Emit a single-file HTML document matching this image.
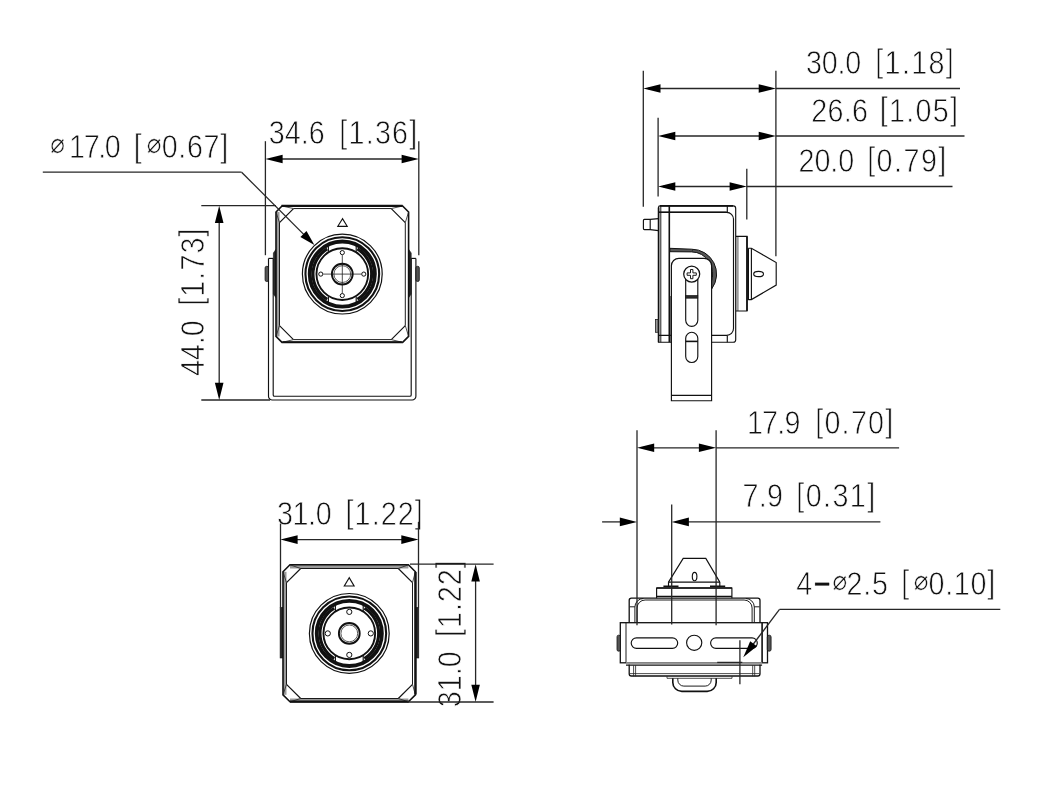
<!DOCTYPE html>
<html lang="en"><head><meta charset="utf-8"><title>Dimensions</title>
<style>
html,body{margin:0;padding:0;background:#fff;}
svg{display:block;will-change:transform;}
.l{fill:none;stroke:#111;stroke-width:1.15;}
.lm{fill:none;stroke:#111;stroke-width:1.6;}
.lk{fill:none;stroke:#111;stroke-width:2.3;}
.li{fill:none;stroke:#111;stroke-width:0.95;}
.lt{fill:none;stroke:#222;stroke-width:0.8;}
.lg{fill:none;stroke:#aaa;stroke-width:0.8;}
.lw{fill:#fff;stroke:#111;stroke-width:1;}
.lwf{fill:#fff;stroke:#111;stroke-width:1.15;}
.dl{fill:none;stroke:#262626;stroke-width:1.3;}
.ah{fill:#000;stroke:none;}
.fk{fill:#111;stroke:none;}
.fd{fill:#2a2a2a;stroke:#111;stroke-width:0.6;}
.fg{fill:#9a9a9a;stroke:none;}
.fg2{fill:#6a6a6a;stroke:none;}
.fs{fill:#555;stroke:#111;stroke-width:0.8;}
.fs2{fill:#999;stroke:#222;stroke-width:0.8;}
.fh{fill:#555;stroke:#111;stroke-width:1;}
text{font-kerning:none;}
.t{font-family:"Liberation Sans",sans-serif;font-size:33px;fill:#111;stroke:#fff;stroke-width:0.75;}
.tb{font-family:"Liberation Sans",sans-serif;font-size:33px;fill:#111;stroke:#111;stroke-width:0.4;}
.d{font-family:"DejaVu Sans","Liberation Sans",sans-serif;font-size:28px;fill:#111;stroke:#fff;stroke-width:0.45;}
</style></head>
<body>
<svg width="1058" height="798" viewBox="0 0 1058 798">
<text class="t" transform="translate(0 158.2) scale(0.87 1)" x="57.82 79.44 96.2 112.95 120.52 138.88 153.85 168.74 185.84 204.97 214.92 234.05 253.18" y="-5 0 0 0 0 0 -1.7 -5 0 0 0 0 -1.7"><tspan class="d" x="57.82" y="-5">⌀</tspan>17.0 [<tspan class="d" x="168.74" y="-5">⌀</tspan>0.67]</text>
<text class="t" transform="translate(0 144.4) scale(0.87 1)" x="308.97 327.36 345.74 354.94 373.29 390.06 400.62 420.37 430.93 450.68 470.43" y="0 0 0 0 0 -1.7 0 0 0 0 -1.7">34.6 [1.36]</text>
<text class="t" transform="translate(204.1 375.1) rotate(-90) scale(0.87 1)" x="-1.1 17.21 35.53 44.66 63.01 79.6 90.05 109.68 120.13 139.76 159.39" y="0 0 0 0 0 -1.7 0 0 0 0 -1.7">44.0 [1.73]</text>
<text class="t" transform="translate(0 74.1) scale(0.87 1)" x="926.33 944.5 962.68 971.67 990.02 1006.04 1016.76 1036.67 1047.39 1067.3 1087.21" y="0 0 0 0 0 -1.7 0 0 0 0 -1.7">30.0 [1.18]</text>
<text class="t" transform="translate(0 121.7) scale(0.87 1)" x="932.48 951.11 969.74 979.19 997.54 1011.33 1021.96 1041.77 1052.4 1072.22 1092.03" y="0 0 0 0 0 -1.7 0 0 0 0 -1.7">26.6 [1.05]</text>
<text class="t" transform="translate(0 172.1) scale(0.87 1)" x="917.77 936.08 954.39 963.51 981.86 996.73 1007.59 1027.63 1038.5 1058.54 1078.59" y="0 0 0 0 0 -1.7 0 0 0 0 -1.7">20.0 [0.79]</text>
<text class="t" transform="translate(0 525.1) scale(0.87 1)" x="318.28 336.23 354.17 362.94 381.29 397.19 407.61 427.22 437.64 457.25 476.86" y="0 0 0 0 0 -1.7 0 0 0 0 -1.7">31.0 [1.22]</text>
<text class="t" transform="translate(461 705.8) rotate(-90) scale(0.87 1)" x="-1.6 16.73 35.06 44.2 62.55 79.03 89.34 108.83 119.14 138.63 158.13" y="0 0 0 0 0 -1.7 0 0 0 0 -1.7">31.0 [1.22]</text>
<text class="t" transform="translate(0 433.9) scale(0.87 1)" x="858.52 875.94 893.36 901.6 919.95 936.96 947.59 967.4 978.04 997.85 1017.67" y="0 0 0 0 0 -1.7 0 0 0 0 -1.7">17.9 [0.70]</text>
<text class="t" transform="translate(0 507.4) scale(0.87 1)" x="853.48 872.08 881.49 899.84 915.35 926.12 946.07 956.84 976.79 996.75" y="0 0 0 0 -1.7 0 0 0 0 -1.7">7.9 [0.31]</text>
<text class="t" transform="translate(0 594.7) scale(0.87 1)" x="915.12 934.95 956.79 973.05 992.23 1002.23 1020.58 1035.81 1050.35 1067.33 1086.46 1096.41 1115.55 1134.68" y="0 0 -5 0 0 0 0 -1.7 -5 0 0 0 0 -1.7">4<tspan class="tb">−</tspan><tspan class="d" x="956.79" y="-5">⌀</tspan>2.5 [<tspan class="d" x="1050.35" y="-5">⌀</tspan>0.10]</text>
<path class="l" d="M268.5,258.4 V396.2 A3.8,3.8 0 0 0 272.3,400 H412.1 A3.8,3.8 0 0 0 415.9,396.2 V258.4"/>
<path class="l" d="M273.2,258.4 V394.9 A1.3,1.3 0 0 0 274.5,396.2 H409.9 A1.3,1.3 0 0 0 411.2,394.9 V258.4"/>
<line class="l" x1="268.5" y1="258.4" x2="273.2" y2="258.4"/>
<line class="l" x1="411.2" y1="258.4" x2="415.9" y2="258.4"/>
<path class="fd" d="M275.9,249.4 L273.4,253 V294 L275.9,297.6 Z"/>
<path class="fd" d="M408.7,249.4 L411.2,253 V294 L408.7,297.6 Z"/>
<rect class="fs" x="265.1" y="266.3" width="3.4" height="15.2" rx="1.6"/>
<rect class="fs" x="415.9" y="266.3" width="3.4" height="15.2" rx="1.6"/>
<rect fill="#fff" x="276" y="206" width="132.6" height="136.4"/>
<rect class="fg" x="276" y="212" width="3.5" height="124.4"/>
<polygon class="l" style="stroke-width:1.6" points="276,212 282,206 402.6,206 408.6,212 408.6,336.4 402.6,342.4 282,342.4 276,336.4"/>
<line class="li" x1="279.5" y1="222.55" x2="279.5" y2="325.6"/>
<line class="li" x1="405.3" y1="222.55" x2="405.3" y2="325.6"/>
<line class="li" x1="293.5" y1="208.55" x2="391.3" y2="208.55"/>
<line class="li" x1="293.5" y1="339.6" x2="391.3" y2="339.6"/>
<polyline class="l" points="279.5,222.55 293.5,208.55"/>
<polyline class="l" points="405.3,222.55 391.3,208.55"/>
<polyline class="l" points="279.5,325.6 293.5,339.6"/>
<polyline class="l" points="405.3,325.6 391.3,339.6"/>
<line class="lt" x1="276" y1="212" x2="279.5" y2="222.55"/>
<line class="lt" x1="282" y1="206" x2="293.5" y2="208.55"/>
<line class="lt" x1="408.6" y1="212" x2="405.3" y2="222.55"/>
<line class="lt" x1="402.6" y1="206" x2="391.3" y2="208.55"/>
<line class="lt" x1="276" y1="336.4" x2="279.5" y2="325.6"/>
<line class="lt" x1="282" y1="342.4" x2="293.5" y2="339.6"/>
<line class="lt" x1="408.6" y1="336.4" x2="405.3" y2="325.6"/>
<line class="lt" x1="402.6" y1="342.4" x2="391.3" y2="339.6"/>
<line class="lk" x1="281.5" y1="205.9" x2="402.6" y2="205.9"/>
<line class="lm" x1="282.5" y1="342" x2="401.8" y2="342"/>
<circle class="l" cx="342.3" cy="274.1" r="39.9" style="stroke-width:1.2"/>
<circle class="l" cx="342.3" cy="274.1" r="36.85" style="stroke-width:2.1"/>
<circle class="l" cx="342.3" cy="274.1" r="32.6" style="stroke-width:3.8"/>
<path class="fk" d="M358.21,247.61 A30.9,30.9 0 0 1 358.21,300.59 L356.62,297.93 A27.8,27.8 0 0 0 356.62,250.27 Z"/>
<path class="fk" d="M326.39,247.61 A30.9,30.9 0 0 0 326.39,300.59 L327.98,297.93 A27.8,27.8 0 0 1 327.98,250.27 Z"/>
<circle class="l" cx="342.3" cy="274.1" r="25.85" style="stroke-width:1.9"/>
<line class="l" x1="328.4" y1="251.7" x2="328.4" y2="246.3"/>
<line class="l" x1="328.4" y1="296.5" x2="328.4" y2="301.9"/>
<line class="l" x1="356.2" y1="251.7" x2="356.2" y2="246.3"/>
<line class="l" x1="356.2" y1="296.5" x2="356.2" y2="301.9"/>
<circle class="lw" cx="342.3" cy="252.6" r="2.1" style="stroke-width:1"/>
<circle class="lw" cx="342.3" cy="295.6" r="2.1" style="stroke-width:1"/>
<circle class="lw" cx="320.8" cy="274.1" r="2.1" style="stroke-width:1"/>
<circle class="lw" cx="363.8" cy="274.1" r="2.1" style="stroke-width:1"/>
<line class="lt" x1="323.3" y1="274.1" x2="361.3" y2="274.1"/>
<line class="lt" x1="342.3" y1="255.1" x2="342.3" y2="293.1"/>
<circle class="l" cx="342.3" cy="274.1" r="10.4" style="stroke-width:1.9"/>
<circle class="l" cx="342.3" cy="274.1" r="8.4" style="stroke-width:0.7"/>
<polygon class="l" points="342.5,218.7 337.8,226.3 347.2,226.3"/>
<line class="dl" x1="42.8" y1="172.2" x2="241.6" y2="172.2"/>
<line class="dl" x1="241.6" y1="172.2" x2="309" y2="239.6"/>
<polygon class="ah" points="314.4,245 300.4,237.08 306.48,231"/>
<line class="dl" x1="265.4" y1="141.2" x2="265.4" y2="255.2"/>
<line class="dl" x1="418.8" y1="141.2" x2="418.8" y2="255.2"/>
<line class="dl" x1="270" y1="159" x2="414" y2="159"/>
<polygon class="ah" points="265.4,159 282.6,154.7 282.6,163.3"/>
<polygon class="ah" points="418.8,159 401.6,163.3 401.6,154.7"/>
<line class="dl" x1="201.3" y1="205.7" x2="276" y2="205.7"/>
<line class="dl" x1="201.3" y1="400" x2="270" y2="400"/>
<line class="dl" x1="219.2" y1="210" x2="219.2" y2="396"/>
<polygon class="ah" points="219.2,205.7 223.5,222.9 214.9,222.9"/>
<polygon class="ah" points="219.2,400 214.9,382.8 223.5,382.8"/>
<path class="l" d="M660,205.9 H733.2 A2.5,2.5 0 0 1 735.7,208.4 V339.7 A2.5,2.5 0 0 1 733.2,342.2 H658.5 V207.4 A1.5,1.5 0 0 1 660,205.9 Z"/>
<line class="lm" x1="660" y1="205.9" x2="733" y2="205.9"/>
<line class="lm" x1="658.6" y1="207.5" x2="658.6" y2="342.2"/>
<line class="li" x1="660.8" y1="205.9" x2="660.8" y2="342.2"/>
<path class="l" d="M658.5,212.3 H726.7 A6.8,6.8 0 0 1 733.5,219.1 V328.6 A6.8,6.8 0 0 1 726.7,335.4 H658.5"/>
<line class="lm" x1="658.5" y1="212.3" x2="726.7" y2="212.3"/>
<line class="l" x1="727.3" y1="205.9" x2="727.3" y2="212"/>
<line class="l" x1="727.3" y1="335.4" x2="727.3" y2="342.2"/>
<line class="lm" x1="669.3" y1="205.9" x2="669.3" y2="342.2"/>
<path class="l" d="M658.5,218.6 L650.2,219.4 H644.4 A1,1 0 0 0 643.4,220.4 V228.6 A1,1 0 0 0 644.4,229.6 H650.2 L658.5,230.6"/>
<line class="l" x1="650.2" y1="219.4" x2="650.2" y2="229.6"/>
<rect class="fs2" x="655.4" y="319.5" width="2.6" height="12.8"/>
<path class="fh" d="M669.9,248.3 L691.7,249.2 A24.9,24.9 0 0 1 711.84,288.74 L711.17,282.42 A21,22.2 0 0 0 691.7,251.9 L669.9,251.7 Z"/>
<line class="lt" x1="692.4" y1="249" x2="692.4" y2="251.4"/>
<rect class="fg" x="736" y="236.3" width="2.7" height="74.7"/>
<path class="l" d="M736,236.3 H747 V311 H736"/>
<line class="lm" x1="747" y1="236.3" x2="747" y2="311"/>
<line class="lm" x1="748.2" y1="248.2" x2="748.2" y2="300"/>
<path class="l" d="M748.2,248.2 H751.4 L776.2,262.5 V285.1 L751.4,299.6 H748.2"/>
<line class="l" x1="751.4" y1="248.2" x2="751.4" y2="299.6"/>
<ellipse class="l" cx="758.6" cy="274" rx="4.9" ry="2.7"/>
<path class="lwf" d="M671.4,400.7 V265.8 A7.5,7.5 0 0 1 678.9,258.3 H704.1 A7.5,7.5 0 0 1 711.6,265.8 V400.7 Z"/>
<line class="l" x1="671.4" y1="395.4" x2="711.6" y2="395.4"/>
<line class="lt" x1="670.3" y1="296" x2="670.3" y2="342.2"/>
<path class="l" d="M685.7,279 V320.3 A6.05,6.05 0 0 0 697.8,320.3 V279"/>
<rect class="fd" x="685.7" y="295.4" width="12.1" height="2.8"/>
<path class="l" d="M685.7,338.3 A6.05,6.05 0 0 1 697.8,338.3 V356.5 A6.05,6.05 0 0 1 685.7,356.5 Z"/>
<line class="lm" x1="685.7" y1="341.4" x2="697.8" y2="341.4"/>
<circle class="lwf" cx="691.7" cy="274.1" r="8" style="stroke-width:1.25"/>
<path class="li" d="M690.5,269.5 h2.4 v3.4 h3.4 v2.4 h-3.4 v3.4 h-2.4 v-3.4 h-3.4 v-2.4 h3.4 Z"/>
<line class="dl" x1="643.3" y1="70.8" x2="643.3" y2="206.8"/>
<line class="dl" x1="775.9" y1="70.8" x2="775.9" y2="256.2"/>
<line class="dl" x1="658.1" y1="117.8" x2="658.1" y2="196.5"/>
<line class="dl" x1="746.8" y1="168.8" x2="746.8" y2="219.5"/>
<line class="dl" x1="648" y1="88.5" x2="771" y2="88.5"/>
<line class="dl" x1="775.9" y1="88.5" x2="960" y2="88.5"/>
<polygon class="ah" points="643.3,88.5 660.5,84.2 660.5,92.8"/>
<polygon class="ah" points="775.9,88.5 758.7,92.8 758.7,84.2"/>
<line class="dl" x1="663" y1="136" x2="771" y2="136"/>
<line class="dl" x1="775.9" y1="136" x2="964.5" y2="136"/>
<polygon class="ah" points="658.1,136 675.3,131.7 675.3,140.3"/>
<polygon class="ah" points="775.9,136 758.7,140.3 758.7,131.7"/>
<line class="dl" x1="663" y1="186.5" x2="742" y2="186.5"/>
<line class="dl" x1="746.8" y1="186.5" x2="952.5" y2="186.5"/>
<polygon class="ah" points="658.1,186.5 675.3,182.2 675.3,190.8"/>
<polygon class="ah" points="746.8,186.5 729.6,190.8 729.6,182.2"/>
<rect class="fd" x="280.1" y="607.4" width="2.7" height="50.6"/>
<rect class="fd" x="415.8" y="607.4" width="3.0" height="50.6"/>
<rect class="fg" x="283" y="571.8" width="3.5" height="123"/>
<rect class="fg" x="290" y="564.8" width="118.4" height="3.7"/>
<rect class="fg" x="290" y="698.5" width="118.4" height="3.3"/>
<polygon class="l" style="stroke-width:1.6" points="283,571.8 290,564.8 408.4,564.8 415.4,571.8 415.4,694.8 408.4,701.8 290,701.8 283,694.8"/>
<line class="li" x1="286.5" y1="582.7" x2="286.5" y2="684.3"/>
<line class="li" x1="412.5" y1="582.7" x2="412.5" y2="684.3"/>
<line class="li" x1="300.7" y1="568.5" x2="398.3" y2="568.5"/>
<line class="li" x1="300.7" y1="698.5" x2="398.3" y2="698.5"/>
<polyline class="l" points="286.5,582.7 300.7,568.5"/>
<polyline class="l" points="412.5,582.7 398.3,568.5"/>
<polyline class="l" points="286.5,684.3 300.7,698.5"/>
<polyline class="l" points="412.5,684.3 398.3,698.5"/>
<line class="lt" x1="283" y1="571.8" x2="286.5" y2="582.7"/>
<line class="lt" x1="290" y1="564.8" x2="300.7" y2="568.5"/>
<line class="lt" x1="415.4" y1="571.8" x2="412.5" y2="582.7"/>
<line class="lt" x1="408.4" y1="564.8" x2="398.3" y2="568.5"/>
<line class="lt" x1="283" y1="694.8" x2="286.5" y2="684.3"/>
<line class="lt" x1="290" y1="701.8" x2="300.7" y2="698.5"/>
<line class="lt" x1="415.4" y1="694.8" x2="412.5" y2="684.3"/>
<line class="lt" x1="408.4" y1="701.8" x2="398.3" y2="698.5"/>
<line class="lk" x1="415.5" y1="572" x2="415.5" y2="694.5"/>
<line class="lk" x1="290" y1="701.6" x2="408.5" y2="701.6"/>
<circle class="l" cx="349.3" cy="633.4" r="39.9" style="stroke-width:1.2"/>
<circle class="l" cx="349.3" cy="633.4" r="36.85" style="stroke-width:2.1"/>
<circle class="l" cx="349.3" cy="633.4" r="32.6" style="stroke-width:3.8"/>
<path class="fk" d="M365.21,606.91 A30.9,30.9 0 0 1 365.21,659.89 L363.62,657.23 A27.8,27.8 0 0 0 363.62,609.57 Z"/>
<path class="fk" d="M333.39,606.91 A30.9,30.9 0 0 0 333.39,659.89 L334.98,657.23 A27.8,27.8 0 0 1 334.98,609.57 Z"/>
<circle class="l" cx="349.3" cy="633.4" r="25.85" style="stroke-width:1.9"/>
<line class="l" x1="335.4" y1="611" x2="335.4" y2="605.6"/>
<line class="l" x1="335.4" y1="655.8" x2="335.4" y2="661.2"/>
<line class="l" x1="363.2" y1="611" x2="363.2" y2="605.6"/>
<line class="l" x1="363.2" y1="655.8" x2="363.2" y2="661.2"/>
<circle class="lw" cx="349.3" cy="611.9" r="2.6" style="stroke-width:1"/>
<circle class="lw" cx="349.3" cy="654.9" r="2.6" style="stroke-width:1"/>
<circle class="lw" cx="327.8" cy="633.4" r="2.6" style="stroke-width:1"/>
<circle class="lw" cx="370.8" cy="633.4" r="2.6" style="stroke-width:1"/>
<circle class="lw" cx="349.3" cy="633.4" r="10.4" style="stroke-width:1.9"/>
<circle class="lw" cx="349.3" cy="633.4" r="8.4" style="stroke-width:0.7"/>
<polygon class="l" points="349.2,577.7 344.3,586 354.1,586"/>
<line class="dl" x1="280.5" y1="523.6" x2="280.5" y2="607.4"/>
<line class="dl" x1="418.5" y1="521.8" x2="418.5" y2="607.4"/>
<line class="dl" x1="285" y1="539.6" x2="414" y2="539.6"/>
<polygon class="ah" points="280.4,539.6 297.6,535.3 297.6,543.9"/>
<polygon class="ah" points="418.5,539.6 401.3,543.9 401.3,535.3"/>
<line class="dl" x1="410" y1="564.2" x2="493.6" y2="564.2"/>
<line class="dl" x1="407" y1="702" x2="493.6" y2="702"/>
<line class="dl" x1="475.6" y1="569" x2="475.6" y2="697"/>
<polygon class="ah" points="475.6,564.2 479.9,581.4 471.3,581.4"/>
<polygon class="ah" points="475.6,702 471.3,684.8 479.9,684.8"/>
<polyline class="l" points="668.5,582.1 683.2,558.4 705.8,558.4 719.8,582.1"/>
<line class="l" x1="668.5" y1="582.1" x2="719.8" y2="582.1"/>
<line class="lm" x1="663.4" y1="586.3" x2="678.5" y2="586.3"/>
<line class="lm" x1="710" y1="586.3" x2="725.2" y2="586.3"/>
<line class="l" x1="668.5" y1="582.1" x2="668.5" y2="586.3"/>
<line class="l" x1="719.8" y1="582.1" x2="719.8" y2="586.3"/>
<ellipse class="l" cx="694.6" cy="576.5" rx="2.3" ry="4.2"/>
<path class="l" d="M656.6,598.2 V588 H731.9 V598.2"/>
<line class="lm" x1="656.6" y1="588" x2="731.9" y2="588"/>
<line class="l" x1="656.6" y1="596.3" x2="731.9" y2="596.3"/>
<rect class="l" x="629.2" y="598.2" width="130.8" height="77.8" rx="2.2" style="stroke-width:1.3"/>
<path class="li" d="M634.9,622.7 V607 A8.5,8.5 0 0 1 643.4,598.5"/>
<path class="li" d="M637.1,622.7 V608 A8,8 0 0 1 645.1,600 H744.1 A8,8 0 0 1 752.1,608 V622.7"/>
<path class="li" d="M754.3,622.7 V607 A8.5,8.5 0 0 0 745.8,598.5"/>
<line class="li" x1="629.7" y1="606.8" x2="634.9" y2="606.8"/>
<line class="li" x1="754.3" y1="606.8" x2="759.5" y2="606.8"/>
<rect class="lwf" x="620.3" y="622.7" width="147.2" height="40.1" style="stroke-width:1.3"/>
<line class="li" x1="626" y1="622.7" x2="626" y2="662.7"/>
<line class="lm" x1="762.1" y1="622.7" x2="762.1" y2="662.7"/>
<rect class="fg" x="626" y="662.2" width="136.1" height="2.6"/>
<line class="l" x1="626" y1="665.2" x2="762.1" y2="665.2"/>
<line class="lt" x1="629.5" y1="673.6" x2="759.5" y2="673.6"/>
<line class="lt" x1="633.6" y1="665.3" x2="633.6" y2="676.3"/>
<line class="lt" x1="635.6" y1="665.3" x2="635.6" y2="676.3"/>
<line class="lt" x1="752.7" y1="665.3" x2="752.7" y2="676.3"/>
<line class="lt" x1="754.7" y1="665.3" x2="754.7" y2="676.3"/>
<line class="lt" x1="667" y1="678.3" x2="732" y2="678.3"/>
<line class="lt" x1="667" y1="676.3" x2="667" y2="678.3"/>
<line class="lt" x1="732" y1="676.3" x2="732" y2="678.3"/>
<rect class="fs" x="617" y="635.2" width="3.4" height="16" rx="1.6"/>
<rect class="fs" x="767.3" y="635.2" width="3.8" height="16" rx="1.8"/>
<rect class="l" x="631.2" y="637.8" width="46.5" height="10.6" rx="5.3"/>
<rect class="l" x="710.6" y="637.8" width="46.7" height="10.6" rx="5.3"/>
<circle class="l" cx="694.2" cy="642.8" r="7.6"/>
<path class="lm" d="M672.8,678.3 V682.4 A9,9 0 0 0 681.8,691.4 H707.2 A9,9 0 0 0 716.2,682.4 V678.3"/>
<path class="li" d="M677.8,678.3 V680.1 A6,6 0 0 0 683.8,686.1 H705.2 A6,6 0 0 0 711.2,680.1 V678.3"/>
<line class="dl" x1="637" y1="430.2" x2="637" y2="625.2"/>
<line class="dl" x1="716.1" y1="430.2" x2="716.1" y2="625.2"/>
<line class="dl" x1="671.7" y1="504.4" x2="671.7" y2="624.6"/>
<line class="dl" x1="642" y1="447.8" x2="711" y2="447.8"/>
<line class="dl" x1="716.1" y1="447.8" x2="899.1" y2="447.8"/>
<polygon class="ah" points="637,447.8 654.2,443.5 654.2,452.1"/>
<polygon class="ah" points="716.1,447.8 698.9,452.1 698.9,443.5"/>
<line class="dl" x1="602.1" y1="521.9" x2="632" y2="521.9"/>
<polygon class="ah" points="637,521.9 619.8,526.2 619.8,517.6"/>
<line class="dl" x1="677" y1="521.9" x2="880.4" y2="521.9"/>
<polygon class="ah" points="671.7,521.9 688.9,517.6 688.9,526.2"/>
<line class="dl" x1="779.5" y1="609.3" x2="1000.3" y2="609.3"/>
<line class="dl" x1="779.5" y1="609.3" x2="748.5" y2="650.5"/>
<polygon class="ah" points="743.3,657.3 750.22,641.23 756.85,646.23"/>
<line class="dl" x1="739.9" y1="640.2" x2="739.9" y2="684.3"/>
<line class="dl" x1="717.2" y1="662.4" x2="742.3" y2="662.4"/>
</svg>
</body></html>
